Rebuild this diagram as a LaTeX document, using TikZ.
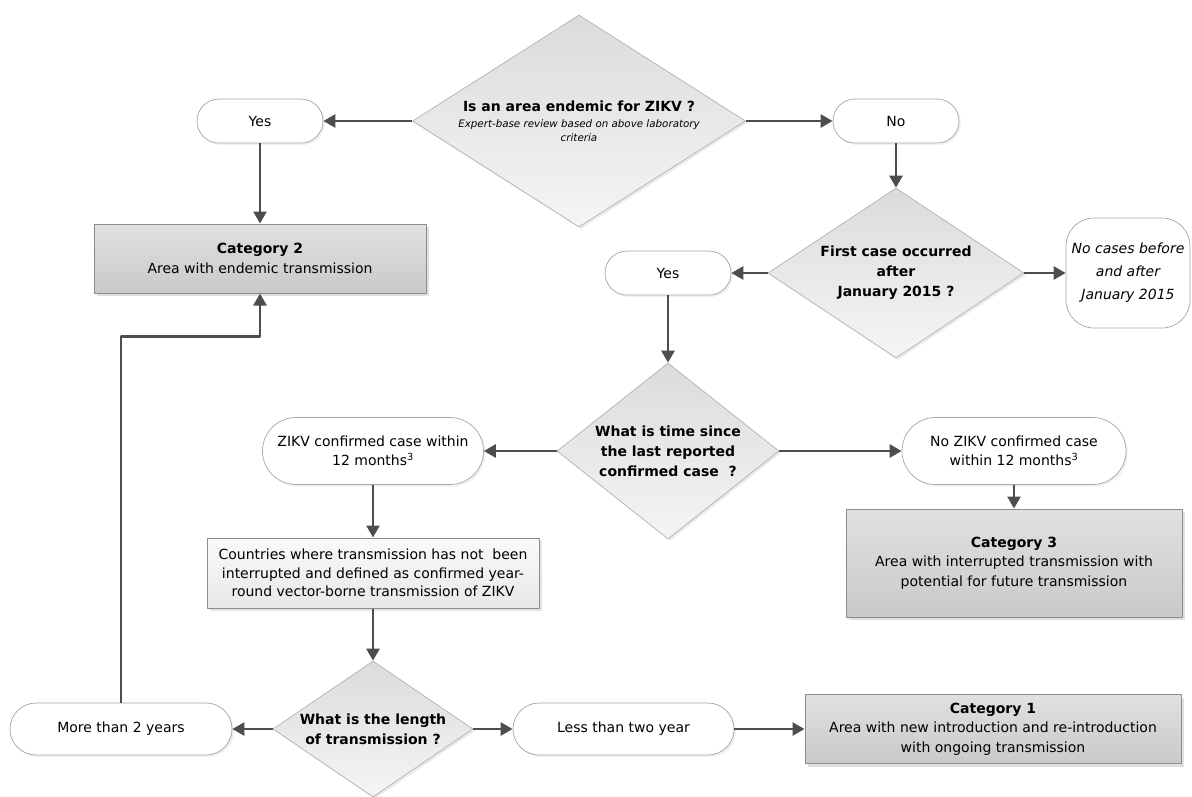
\documentclass[tikz,border=0pt]{standalone}
\usepackage{fontspec}
\setmainfont{DejaVu Sans}
\usetikzlibrary{shapes.geometric,shapes.misc,arrows.meta,shadows}
\definecolor{linegray}{RGB}{77,77,77}
\definecolor{boxedge}{RGB}{140,140,140}
\definecolor{pilledge}{RGB}{165,165,165}
\begin{document}
\begin{tikzpicture}[x=1pt,y=-1pt, line join=round,
	flow/.style={draw=linegray, line width=2.6pt, -{Triangle[length=12pt,width=13pt]}},
	decision/.style={diamond, draw=black!30, line width=0.7pt, top color=black!14, bottom color=black!4, inner sep=0pt, drop shadow={shadow xshift=2pt,shadow yshift=-2pt,fill=black!8,opacity=1}},
	qtxt/.style={font=\fontsize{14}{20}\selectfont\bfseries, align=center, inner sep=0pt},
	pill/.style={rounded rectangle, draw=pilledge, line width=0.7pt, fill=white, font=\fontsize{14}{19}\selectfont, align=center, inner sep=0pt, drop shadow={shadow xshift=2pt,shadow yshift=-2pt,fill=black!6,opacity=1}},
	catbox/.style={rectangle, draw=boxedge, line width=1pt, top color=black!12, bottom color=black!21, font=\fontsize{14}{19.5}\selectfont, align=center, inner sep=0pt, drop shadow={shadow xshift=3pt,shadow yshift=-3pt,fill=black!12,opacity=1}}]
	\useasboundingbox (0,0) rectangle (1192,796);
	% first question
	\node[decision, minimum width=333pt, minimum height=212pt] (q1) at (579,121) {};
	\node[qtxt] (q1text) at (q1) {Is an area endemic for ZIKV ?\\[-4pt]{\fontsize{10.3}{13}\selectfont\mdseries\itshape Expert-base review based on above laboratory}\\[-6pt]{\fontsize{10.3}{13}\selectfont\mdseries\itshape criteria}};
	\node[pill, minimum width=126pt, minimum height=44pt] (yes1) at (260,121) {Yes};
	\node[pill, minimum width=126pt, minimum height=44pt] (no1) at (896,121) {No};
	\node[catbox, minimum width=332pt, minimum height=69pt] (cat2) at (260,258.5) {\textbf{Category 2}\\Area with endemic transmission};
	% second question
	\node[decision, minimum width=256pt, minimum height=170pt] (q2) at (896,273) {};
	\node[qtxt] (q2text) at (q2) {First case occurred\\after\\January 2015 ?};
	\node[pill, minimum width=126pt, minimum height=44pt] (yes2) at (668,273) {Yes};
	\node[rectangle, rounded corners=28pt, draw=pilledge, line width=0.7pt, fill=white, minimum width=124pt, minimum height=110pt, font=\fontsize{14}{23}\selectfont\itshape, align=center, inner sep=0pt] (nocase) at (1128,273) {No cases before\\and after\\January 2015};
	% third question
	\node[decision, minimum width=222pt, minimum height=176pt] (q3) at (668,451) {};
	\node[qtxt] (q3text) at (q3) {What is time since\\the last reported\\confirmed case \ ?};
	\node[pill, minimum width=221pt, minimum height=67pt] (zikv) at (373,451) {ZIKV confirmed case within\\12 months\textsuperscript{3}};
	\node[pill, minimum width=224pt, minimum height=67pt] (nozikv) at (1014,451) {No ZIKV confirmed case\\within 12 months\textsuperscript{3}};
	\node[catbox, minimum width=336pt, minimum height=108pt] (cat3) at (1014,563) {\textbf{Category 3}\\Area with interrupted transmission with\\potential for future transmission};
	\node[rectangle, draw=boxedge, line width=1pt, top color=black!2, bottom color=black!9, minimum width=332pt, minimum height=70pt, font=\fontsize{14}{18.5}\selectfont, align=center, inner sep=0pt, drop shadow={shadow xshift=3pt,shadow yshift=-3pt,fill=black!10,opacity=1}] (countries) at (373,573) {Countries where transmission has not \ been\\interrupted and defined as confirmed year-\\round vector-borne transmission of ZIKV};
	% fourth question
	\node[decision, minimum width=200pt, minimum height=136pt] (q4) at (373,729) {};
	\node[qtxt] (q4text) at (q4) {What is the length\\of transmission ?};
	\node[pill, minimum width=222pt, minimum height=52pt] (more) at (121,729) {More than 2 years};
	\node[pill, minimum width=221pt, minimum height=52pt] (less) at (623.5,729) {Less than two year};
	\node[catbox, minimum width=376pt, minimum height=69pt] (cat1) at (993,729) {\textbf{Category 1}\\Area with new introduction and re-introduction\\with ongoing transmission};
	% arrows
	\draw[flow] (q1.west) -- (yes1.east);
	\draw[flow] (q1.east) -- (no1.west);
	\draw[flow] (yes1.south) -- (cat2.north);
	\draw[flow] (no1.south) -- (q2.north);
	\draw[flow] (q2.west) -- (yes2.east);
	\draw[flow] (q2.east) -- (nocase.west);
	\draw[flow] (yes2.south) -- (q3.north);
	\draw[flow] (q3.west) -- (zikv.east);
	\draw[flow] (q3.east) -- (nozikv.west);
	\draw[flow] (nozikv.south) -- (cat3.north);
	\draw[flow] (zikv.south) -- (countries.north);
	\draw[flow] (countries.south) -- (q4.north);
	\draw[flow] (q4.west) -- (more.east);
	\draw[flow] (q4.east) -- (less.west);
	\draw[flow] (less.east) -- (cat1.west);
	\draw[flow] (more.north) |- ([yshift=-43pt]cat2.south) -- (cat2.south);
	%\draw[flow] (cat2.east) -- (q2.west);
\end{tikzpicture}
\end{document}
